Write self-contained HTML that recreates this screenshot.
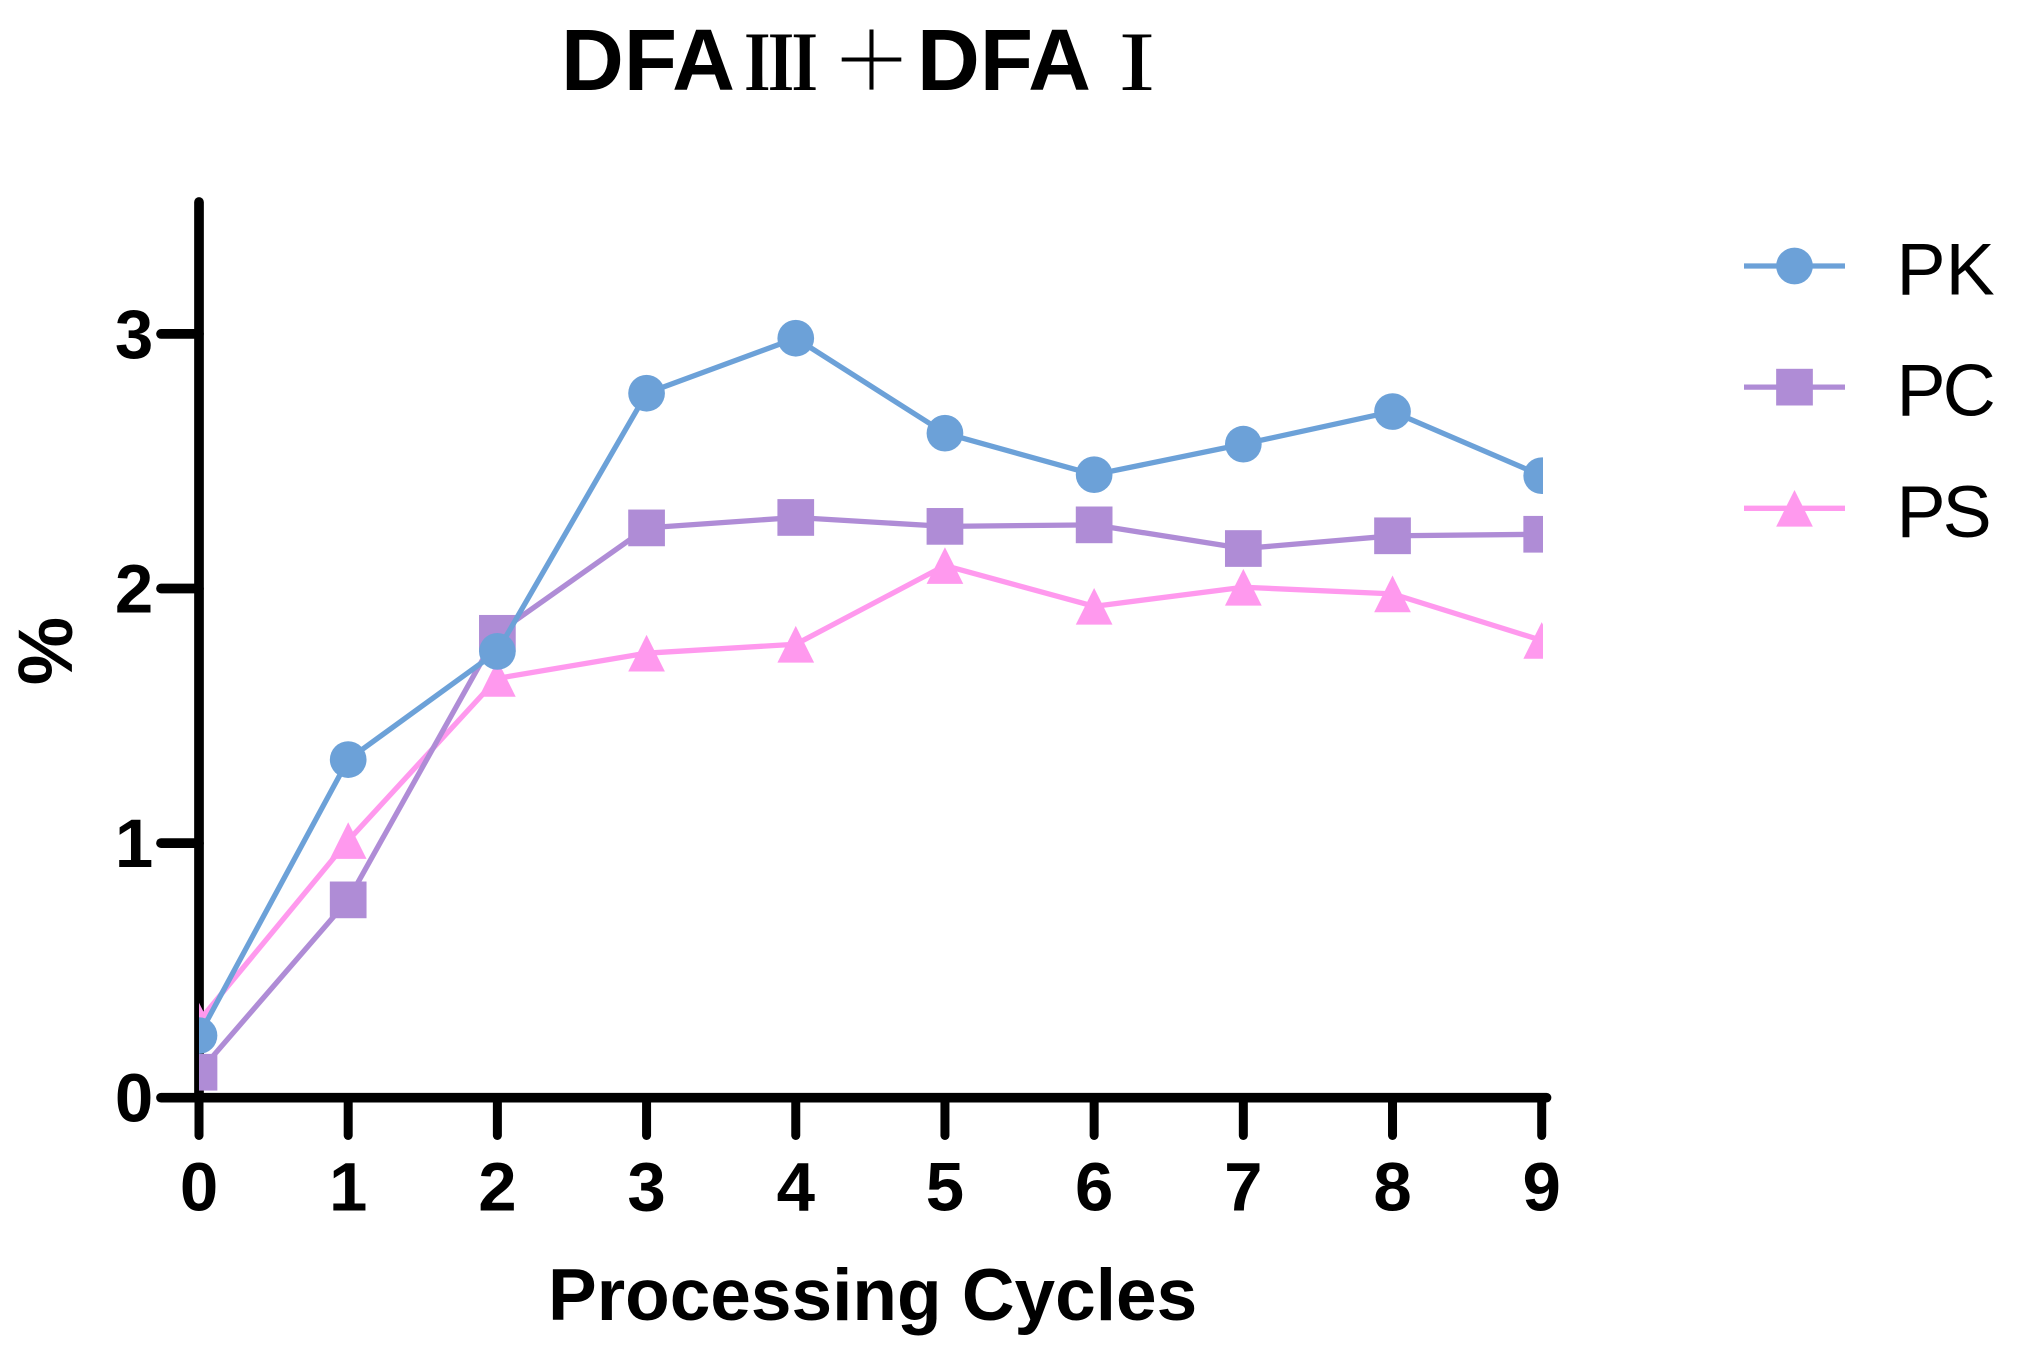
<!DOCTYPE html>
<html lang="en">
<head>
<meta charset="utf-8">
<title>DFAⅢ＋DFA Ⅰ</title>
<style>
html,body{margin:0;padding:0;background:#fff;}
body{width:2026px;height:1357px;overflow:hidden;}
svg{display:block;}
text{font-family:"Liberation Sans",Arial,sans-serif;fill:#000;}
.bold{font-weight:700;}
</style>
</head>
<body>
<svg id="chart" xmlns="http://www.w3.org/2000/svg" width="2026" height="1357" viewBox="0 0 2026 1357">
  <defs>
    <clipPath id="plot-clip"><rect x="199" y="0" width="1344" height="1357"></rect></clipPath>
  </defs>
  <rect x="0" y="0" width="2026" height="1357" fill="#ffffff"></rect>
  <text class="bold" y="90" font-size="87">
    <tspan x="561">DFA</tspan><tspan x="744" font-size="74" font-family="'Noto Serif CJK SC','Liberation Serif',serif" font-weight="700">Ⅲ</tspan><tspan x="831" font-size="81" font-family="'Noto Sans CJK SC',sans-serif" font-weight="300">＋</tspan><tspan x="917">DFA</tspan><tspan x="1100" font-size="74" font-family="'Noto Serif CJK SC','Liberation Serif',serif" font-weight="700">Ⅰ</tspan>
  </text>
  <text class="bold" font-size="77" text-anchor="middle" transform="translate(72,651) rotate(-90)">%</text>
  <text class="bold" font-size="73" x="548" y="1320">Processing Cycles</text>
  <g id="axes"></g>
  <g id="series" clip-path="url(#plot-clip)"></g>
  <g id="legend"></g>
</svg>
<script>
const xCategories = [0, 1, 2, 3, 4, 5, 6, 7, 8, 9];
const yTicks = [0, 1, 2, 3];
const seriesNames = ['PS', 'PC', 'PK'];
const pkValues = [0.244, 1.328, 1.753, 2.767, 2.983, 2.61, 2.447, 2.567, 2.695, 2.443];
const pcValues = [0.100, 0.777, 1.824, 2.238, 2.279, 2.244, 2.250, 2.157, 2.207, 2.213];
const psValues = [0.301, 1.010, 1.647, 1.746, 1.781, 2.090, 1.930, 2.005, 1.979, 1.796];
const legendOrder = ['PK', 'PC', 'PS'];

const NS = 'http://www.w3.org/2000/svg';
const colors = { PK: '#6ca1d8', PC: '#af8cd6', PS: '#ff99ee' };
const valuesBySeries = { PK: pkValues, PC: pcValues, PS: psValues };

function xScale(v) { return 199 + v * 149.19; }
function yScale(v) { return 1097.7 - v * 254.6; }

function make(tag, parent, attrs) {
  const el = document.createElementNS(NS, tag);
  Object.keys(attrs).forEach(function (k) { el.setAttribute(k, attrs[k]); });
  parent.appendChild(el);
  return el;
}

function drawMarker(kind, parent, cx, cy) {
  const size = 36.7;
  const fill = colors[kind];
  if (kind === 'PK') {
    return make('circle', parent, { cx: cx, cy: cy, r: size / 2, fill: fill });
  }
  if (kind === 'PC') {
    return make('rect', parent, { x: cx - size / 2, y: cy - size / 2, width: size, height: size, fill: fill });
  }
  const pts = [cx, cy - size / 2, cx + size / 2, cy + size / 2, cx - size / 2, cy + size / 2];
  return make('polygon', parent, { points: pts.join(' '), fill: fill });
}

const axes = document.getElementById('axes');
const yAxisLine = make('line', axes, { x1: 199, y1: 202, x2: 199, y2: 1097.7, stroke: '#000', 'stroke-width': 9.7, 'stroke-linecap': 'round' });


const xAxisLine = make('line', axes, { x1: 199, y1: 1097.7, x2: 1546.5, y2: 1097.7, stroke: '#000', 'stroke-width': 9.7, 'stroke-linecap': 'round' });



yTicks.forEach(function (t) {
  const y = yScale(t);
  const tick = make('line', axes, { x1: 161, y1: y, x2: 199, y2: y, stroke: '#000', 'stroke-width': 9.7, 'stroke-linecap': 'round' });
  
  
  const label = make('text', axes, { x: 134, y: y + 24, 'text-anchor': 'middle', 'font-size': 69, class: 'bold' });
  
  
  label.textContent = String(t);
});

xCategories.forEach(function (c) {
  const x = xScale(c);
  const tick = make('line', axes, { x1: x, y1: 1097.7, x2: x, y2: 1135.5, stroke: '#000', 'stroke-width': 9, 'stroke-linecap': 'round' });
  
  
  const label = make('text', axes, { x: x, y: 1210.7, 'text-anchor': 'middle', 'font-size': 69, class: 'bold' });
  
  
  label.textContent = String(c);
});

const seriesRoot = document.getElementById('series');
seriesNames.forEach(function (name) {
  const values = valuesBySeries[name];
  const group = make('g', seriesRoot, {});
  
  
  const pts = values.map(function (v, i) { return xScale(xCategories[i]) + ',' + yScale(v); }).join(' ');
  const path = make('polyline', group, { points: pts, fill: 'none', stroke: colors[name], 'stroke-width': 5.3, 'stroke-linejoin': 'round' });
  
  
  values.forEach(function (v, i) {
    const m = drawMarker(name, group, xScale(xCategories[i]), yScale(v));
    
    
  });
});

const legend = document.getElementById('legend');
legendOrder.forEach(function (name, i) {
  const y = 266 + i * 121.15;
  const entry = make('g', legend, {});
  
  
  const sample = make('line', entry, { x1: 1744, y1: y, x2: 1845, y2: y, stroke: colors[name], 'stroke-width': 5.3 });
  
  
  const marker = drawMarker(name, entry, 1794.5, y);
  
  
  const label = make('text', entry, { x: 1896.5, y: y + 28.5, 'font-size': 73.6, 'letter-spacing': name === 'PK' ? 0 : -3 });
  
  
  label.textContent = name;
});
</script>
</body>
</html>
